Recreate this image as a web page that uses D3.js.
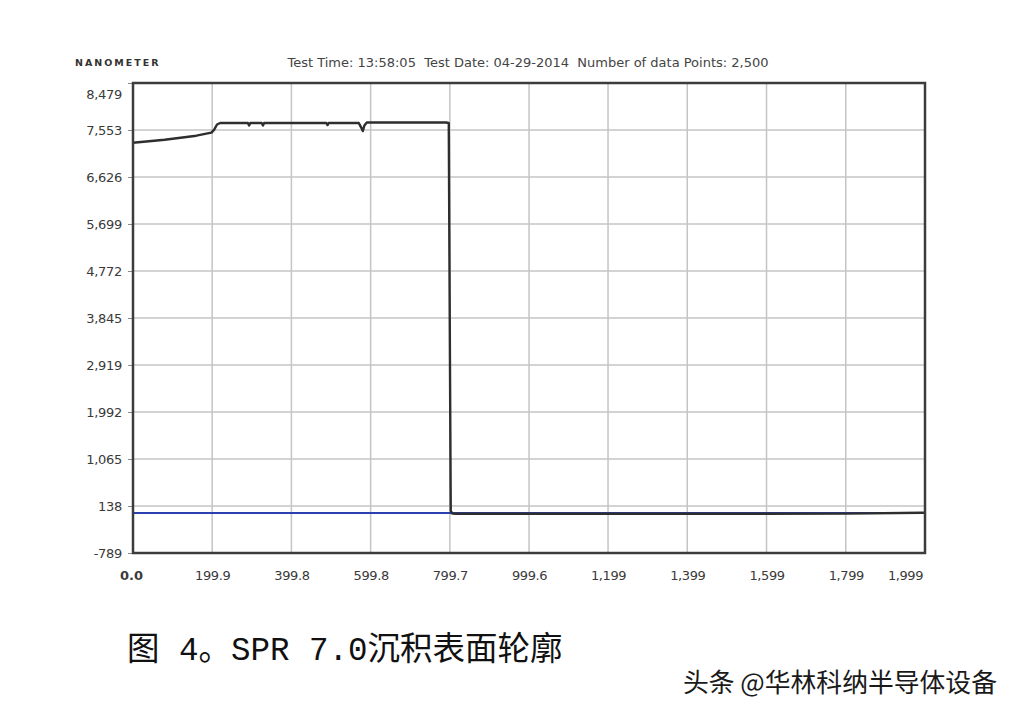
<!DOCTYPE html>
<html><head><meta charset="utf-8">
<script src="https://cdn.jsdelivr.net/npm/d3@7"></script>
<style>body{margin:0;background:#fff}svg{display:block}</style>
</head><body>
<svg id="c" width="1018" height="714"></svg>
<script>
// ---- data ----
const profileX = [0, 40, 80, 120, 160, 185, 198, 205, 212, 220, 290, 293, 296, 300, 325, 328, 331, 400, 488, 491, 494, 570, 576, 580, 584, 590, 700, 790, 797, 800, 802, 806, 815, 1000, 1400, 1800, 1990, 1999];
const profileY = [7300, 7330, 7360, 7400, 7440, 7480, 7500, 7560, 7660, 7690, 7690, 7640, 7690, 7690, 7690, 7640, 7690, 7690, 7690, 7650, 7690, 7690, 7600, 7530, 7640, 7700, 7700, 7700, 7690, 3000, 40, -10, -15, -15, -15, -12, 5, 5];
const baselineX = [0, 1999];
const baselineY = [0, 0];
const yTicks = [-789, 138, 1065, 1992, 2919, 3845, 4772, 5699, 6626, 7553, 8479];
const xTicks = [0, 199.9, 399.8, 599.8, 799.7, 999.6, 1199, 1399, 1599, 1799, 1999];
const xTickLabels = ["0.0", "199.9", "399.8", "599.8", "799.7", "999.6", "1,199", "1,399", "1,599", "1,799", "1,999"];
const yTickLabels = ["-789", "138", "1,065", "1,992", "2,919", "3,845", "4,772", "5,699", "6,626", "7,553", "8,479"];
const headerUnit = "NANOMETER";
const headerInfo = "Test Time: 13:58:05  Test Date: 04-29-2014  Number of data Points: 2,500";
const caption = "图 4。SPR 7.0沉积表面轮廓";
const watermark = "头条 @华林科纳半导体设备";

// ---- layout ----
const L = 133, R = 925, T = 83, B = 553;
const svg = d3.select("#c");
const x = d3.scaleLinear().domain([0, 1999]).range([L, R]);
const y = d3.scaleLinear().domain([-789, 8479]).range([B, T]);

// grid
const g = svg.append("g");
g.selectAll("line.h").data(yTicks).join("line")
  .attr("x1", L).attr("x2", R).attr("y1", d => y(d)).attr("y2", d => y(d))
  .attr("stroke", "#c4c4c4").attr("stroke-width", 1.5);
g.selectAll("line.v").data(xTicks).join("line")
  .attr("y1", T).attr("y2", B).attr("x1", d => x(d)).attr("x2", d => x(d))
  .attr("stroke", "#c4c4c4").attr("stroke-width", 1.5);

// y axis ticks + labels
const yAxis = d3.axisLeft(y).tickValues(yTicks).tickSize(5).tickPadding(6)
  .tickFormat((d, i) => yTickLabels[i]);
const ya = svg.append("g").attr("transform", `translate(${L},0)`).call(yAxis);
ya.select(".domain").remove();
ya.selectAll("line").attr("stroke", "#888");
ya.selectAll("text").attr("font-family", "DejaVu Sans").attr("font-size", 13).attr("fill", "#3a3a3a")
  .attr("letter-spacing", -0.3);
ya.selectAll(".tick").filter(d => d === 8479).select("text").attr("dy", "1.2em");

// x axis labels
const xAxis = d3.axisBottom(x).tickValues(xTicks).tickSize(0).tickPadding(18)
  .tickFormat((d, i) => xTickLabels[i]);
const xa = svg.append("g").attr("transform", `translate(0,${B})`).call(xAxis);
xa.select(".domain").remove();
xa.selectAll("text").attr("font-family", "DejaVu Sans").attr("font-size", 13).attr("fill", "#3a3a3a")
  .attr("letter-spacing", -0.4);
xa.selectAll(".tick").filter(d => d === 1999).select("text").attr("dx", -20);
xa.selectAll(".tick").filter(d => d === 0).select("text").attr("dx", -2).attr("font-weight", "bold").attr("letter-spacing", 0);

// baseline (blue)
const line = d3.line().x(d => x(d[0])).y(d => y(d[1]));
svg.append("path").datum(d3.zip(baselineX, baselineY)).attr("d", line)
  .attr("fill", "none").attr("stroke", "#2a3fb0").attr("stroke-width", 2);

// profile
svg.append("path").datum(d3.zip(profileX, profileY)).attr("d", line)
  .attr("fill", "none").attr("stroke", "#2e2e2e").attr("stroke-width", 2.4)
  .attr("stroke-linejoin", "round");

// frame
svg.append("rect").attr("x", L).attr("y", T).attr("width", R - L).attr("height", B - T)
  .attr("fill", "none").attr("stroke", "#3c3c3c").attr("stroke-width", 2.5);

// header
svg.append("text").attr("x", 75).attr("y", 66).text(headerUnit)
  .attr("font-family", "DejaVu Sans").attr("font-weight", "bold").attr("font-size", 9.5)
  .attr("letter-spacing", 2).attr("fill", "#333");
svg.append("text").attr("x", 528).attr("y", 67).attr("text-anchor", "middle").text(headerInfo)
  .style("white-space", "pre")
  .attr("font-family", "DejaVu Sans").attr("font-size", 13).attr("fill", "#444");

// caption
svg.append("text").attr("x", 127).attr("y", 660).text(caption)
  .style("white-space", "pre")
  .attr("font-family", "'Liberation Mono', 'Noto Sans CJK SC'").attr("font-size", 32.5).attr("fill", "#111");

// watermark
svg.append("text").attr("x", 683).attr("y", 692).text(watermark)
  .attr("font-family", "Noto Sans CJK SC").attr("font-size", 25.8).attr("fill", "#1a1a1a")
  .attr("stroke", "#fff").attr("stroke-width", 2).attr("paint-order", "stroke");
</script>
</body></html>
